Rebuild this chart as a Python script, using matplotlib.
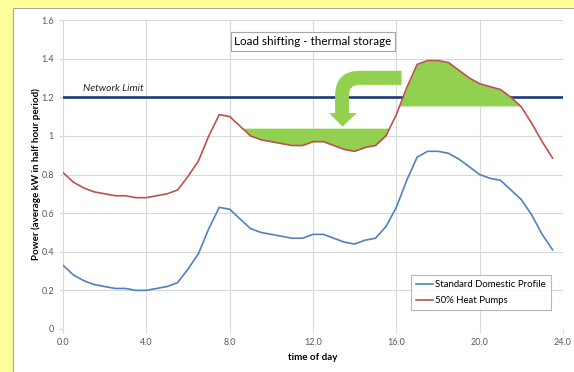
"""Half-hourly domestic load profiles with heat pumps and a thermal-storage load shift."""
import matplotlib.pyplot as plt
import numpy as np
from matplotlib.patches import PathPatch, Rectangle
from matplotlib.path import Path

plt.rcParams["font.family"] = ["Lato", "DejaVu Sans"]

# half-hour periods, 0.0 .. 23.5
hours = np.arange(48) * 0.5

standard = [0.33, 0.28, 0.25, 0.23, 0.22, 0.21, 0.21, 0.20, 0.20, 0.21,
            0.22, 0.24, 0.31, 0.39, 0.52, 0.63, 0.62, 0.57, 0.52, 0.50,
            0.49, 0.48, 0.47, 0.47, 0.49, 0.49, 0.47, 0.45, 0.44, 0.46,
            0.47, 0.53, 0.63, 0.77, 0.89, 0.92, 0.92, 0.91, 0.88, 0.84,
            0.80, 0.78, 0.77, 0.72, 0.67, 0.59, 0.49, 0.41]

heat_pumps = [0.81, 0.76, 0.73, 0.71, 0.70, 0.69, 0.69, 0.68, 0.68, 0.69,
              0.70, 0.72, 0.79, 0.87, 1.00, 1.11, 1.10, 1.05, 1.00, 0.98,
              0.97, 0.96, 0.95, 0.95, 0.97, 0.97, 0.95, 0.93, 0.92, 0.94,
              0.95, 1.00, 1.11, 1.25, 1.37, 1.39, 1.39, 1.38, 1.34, 1.30,
              1.27, 1.255, 1.24, 1.20, 1.15, 1.065, 0.97, 0.885]

network_limit = 1.2
peak_cut = 1.155      # level the evening peak is shaved down to
valley_fill = 1.04    # level the daytime dip is filled up to

x_ticks = [0, 4, 8, 12, 16, 20, 24]
y_ticks = [0, 0.2, 0.4, 0.6, 0.8, 1.0, 1.2, 1.4, 1.6]
y_tick_labels = ["0", "0.2", "0.4", "0.6", "0.8", "1", "1.2", "1.4", "1.6"]

BLUE = "#4F81BD"
RED = "#C0504D"
GREEN = "#92D050"
NAVY = "#1F3C78"
GRID = "#D9D9D9"
TEXT = "#595959"

fig = plt.figure(figsize=(5.74, 3.72), dpi=100)
fig.patch.set_facecolor("#FFFF99")
panel = Rectangle((13 / 574, -0.01), 1.0, 1 - 8 / 372 + 0.01,
                  transform=fig.transFigure, facecolor="white",
                  edgecolor="#A6A6A6", lw=0.8, zorder=-5)
fig.add_artist(panel)

ax = fig.add_axes([63 / 574, 43 / 372, 500 / 574, 309 / 372])
ax.set_facecolor("none")

hp = np.array(heat_pumps)

ax.axhline(network_limit, color=NAVY, lw=1.9, zorder=2)
ax.text(0.95, network_limit + 0.022, "Network Limit", style="italic",
        fontsize=7.4, color="#262626", va="bottom", ha="left")

# peak shaved off above the cut level
ax.fill_between(hours, peak_cut, hp, where=(hp > peak_cut) & (hours > 14),
                interpolate=True, color=GREEN, lw=0, zorder=3)
# daytime dip that the stored heat fills
ax.fill_between(hours, hp, valley_fill,
                where=(hp < valley_fill) & (hours > 8) & (hours < 16),
                interpolate=True, color=GREEN, lw=0, zorder=3)

# bent arrow from the evening peak back to the daytime dip
x_right, x_out, x_in = 16.25, 13.06, 13.73
y_top, y_bar, y_shaft = 1.337, 1.264, 1.118
head_l, head_r, tip = 12.77, 14.1, (13.42, 1.048)
verts = [(x_right, y_top), (x_out + 1.2, y_top), (x_out, y_top),
         (x_out, y_top - 0.13), (x_out, y_shaft), (head_l, y_shaft), tip,
         (head_r, y_shaft), (x_in, y_shaft), (x_in, y_bar - 0.05),
         (x_in, y_bar), (x_in + 0.5, y_bar), (x_right, y_bar),
         (x_right, y_top)]
codes = [Path.MOVETO, Path.LINETO, Path.CURVE3, Path.CURVE3, Path.LINETO,
         Path.LINETO, Path.LINETO, Path.LINETO, Path.LINETO, Path.LINETO,
         Path.CURVE3, Path.CURVE3, Path.LINETO, Path.CLOSEPOLY]
ax.add_patch(PathPatch(Path(verts, codes), facecolor=GREEN, lw=0, zorder=3))

ax.plot(hours, standard, color=BLUE, lw=1.2, label="Standard Domestic Profile",
        zorder=4)
ax.plot(hours, heat_pumps, color=RED, lw=1.2, label="50% Heat Pumps", zorder=4)

ax.text(12.0, 1.49, "Load shifting - thermal storage", ha="center",
        va="center", fontsize=8.4, color="black",
        bbox=dict(boxstyle="square,pad=0.33", facecolor="white",
                  edgecolor="#A6A6A6", lw=0.8))

ax.set_xlim(0, 24)
ax.set_ylim(0, 1.6)
ax.set_xticks(x_ticks)
ax.set_xticklabels([f"{t:.1f}" for t in x_ticks])
ax.set_yticks(y_ticks)
ax.set_yticklabels(y_tick_labels)
ax.tick_params(axis="both", labelsize=6.5, labelcolor=TEXT, color=GRID,
               length=3, width=0.8)
ax.grid(color=GRID, lw=0.8)
for s in ax.spines.values():
    s.set_visible(False)

ax.set_xlabel("time of day", fontsize=7, fontweight="bold", labelpad=4)
ax.set_ylabel("Power (average kW in half hour period)", fontsize=7,
              fontweight="bold", labelpad=0)

leg = ax.legend(loc="lower right", bbox_to_anchor=(0.976, 0.06), fontsize=6.9,
                frameon=True, fancybox=False, handlelength=1.7,
                handletextpad=0.25, borderpad=0.55, labelspacing=0.7,
                borderaxespad=0)
leg.get_frame().set_edgecolor("#A6A6A6")
leg.get_frame().set_linewidth(0.8)

fig.savefig("out.png", dpi=100, facecolor=fig.get_facecolor())
